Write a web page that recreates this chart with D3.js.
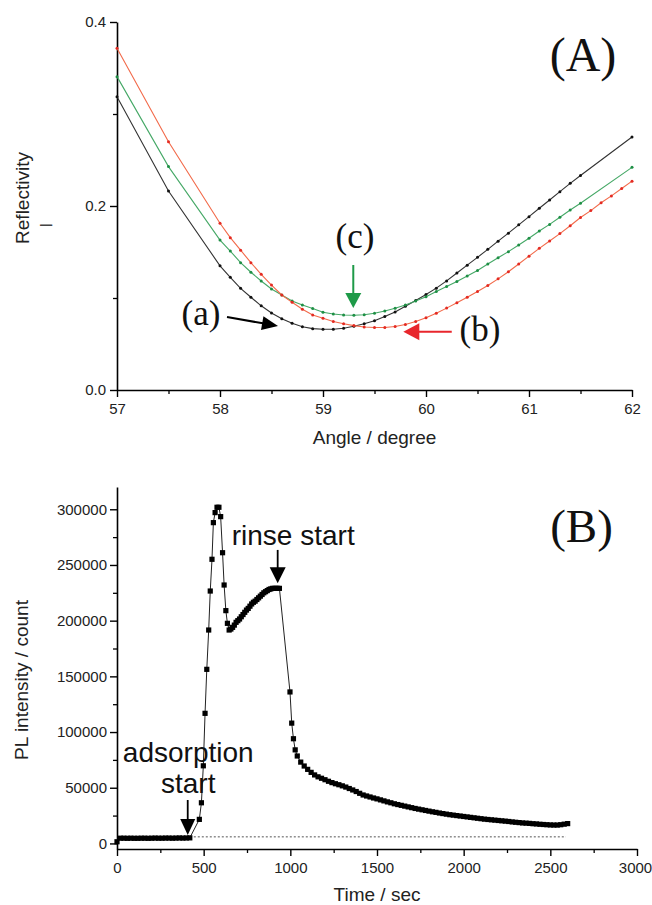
<!DOCTYPE html>
<html><head><meta charset="utf-8">
<script src="https://cdn.jsdelivr.net/npm/d3@7"></script>
<style>
body{margin:0;background:#fff;}
svg{display:block;}
</style></head><body>
<svg id="c" width="652" height="905"></svg>
<script>
// ---------- Panel A data (SPR reflectivity curves) ----------
const anglesAC = [57,57.5,58.0,58.1,58.2,58.3,58.4,58.5,58.6,58.7,58.8,58.9,59.0,59.1,59.2,59.3,59.4,59.5,59.6,59.7,59.8,59.9,60.0,60.1,60.2,60.3,60.4,60.5,60.6,60.7,60.8,60.9,61.0,61.1,61.2,61.3,61.4,61.5,62.0];
const anglesB = [57,57.5,58.0,58.1,58.2,58.3,58.4,58.5,58.6,58.7,58.8,58.9,59.0,59.1,59.2,59.3,59.4,59.5,59.6,59.7,59.8,59.9,60.0,60.1,60.2,60.3,60.4,60.5,60.6,60.7,60.8,60.9,61.0,61.1,61.2,61.3,61.4,61.5,61.6,61.7,61.8,61.9,62.0];
const reflA = [0.3188,0.2163,0.135,0.1225,0.1105,0.1008,0.0915,0.0837,0.0775,0.0725,0.0688,0.0667,0.066,0.066,0.0672,0.0692,0.072,0.0752,0.08,0.0848,0.091,0.0972,0.1038,0.1107,0.1186,0.1272,0.1357,0.1442,0.1529,0.1618,0.1705,0.1795,0.1884,0.1975,0.2065,0.2156,0.2246,0.2332,0.2750];
const reflC = [0.3406,0.2428,0.163,0.151,0.1384,0.128,0.1185,0.1098,0.1033,0.0967,0.0924,0.0885,0.0845,0.0826,0.0815,0.0812,0.0818,0.0835,0.0858,0.0888,0.0924,0.0967,0.1014,0.107,0.1125,0.118,0.124,0.130,0.137,0.1438,0.1504,0.1576,0.1649,0.1728,0.18,0.1877,0.1957,0.203,0.2420];
const reflB = [0.3714,0.2699,0.1812,0.1656,0.152,0.1384,0.1257,0.1141,0.1033,0.0953,0.0877,0.0815,0.078,0.0745,0.072,0.070,0.0685,0.068,0.068,0.069,0.0712,0.0745,0.0785,0.0835,0.089,0.0948,0.1008,0.107,0.1135,0.1208,0.1285,0.137,0.1455,0.154,0.162,0.170,0.1785,0.1875,0.195,0.2035,0.211,0.219,0.227];
const angleTicks = [57,58,59,60,61,62];
const angleMinor = [57.5,58.5,59.5,60.5,61.5];
const reflTicks = [0.0,0.2,0.4];
const reflMinor = [0.1,0.3];

// ---------- Panel B data (PL intensity vs time) ----------
const plTime = [0,20,40,60,80,100,120,140,160,180,200,220,240,260,280,300,320,340,360,380,400,420,
 475,487,498,508,518,529,538,548,556,566,577,588,598,609,618,628,637,647,
 657,667,677,687,697,707,717,727,737,747,757,767,777,787,797,807,817,827,837,847,857,867,877,887,897,907,917,927,937,
 998,1008,1018,1028,1040,
 1060,1080,1100,1120,1140,1160,1180,1200,1220,1240,1260,1280,1300,1320,1340,1360,1380,1400,1420,1440,1460,1480,1500,
 1520,1540,1560,1580,1600,1620,1640,1660,1680,1700,1720,1740,1760,1780,1800,1820,1840,1860,1880,1900,1920,1940,1960,1980,2000,
 2020,2040,2060,2080,2100,2120,2140,2160,2180,2200,2220,2240,2260,2280,2300,2320,2340,2360,2380,2400,2420,2440,2460,2480,2500,
 2520,2540,2560,2580,2600];
const plCount = [1500,4700,4700,4600,4700,4600,4600,4700,4700,4600,4700,4800,4700,4700,4800,4800,4700,4800,4900,4800,4900,5000,
 21600,36500,69700,116800,156300,191600,226600,255100,288000,297000,301800,301800,293400,261000,232000,209000,197600,191600,
 192500,194000,196000,198500,200000,201500,203500,205500,207500,209500,211000,213000,215000,216500,217500,219000,220500,222000,223500,225000,226000,227000,228000,228500,229000,229000,229000,229000,229000,
 136000,108000,94000,84000,78500,
 73000,69500,66500,63800,61500,59800,58500,57200,55800,54600,53600,52700,51700,50600,49300,48000,46600,45000,43500,42600,41700,40800,40000,
 39100,38200,37300,36500,35600,34900,34200,33500,32800,32100,31400,30800,30200,29600,29000,28400,27900,27300,26800,26300,25800,25400,25000,24600,24200,
 23800,23400,23000,22600,22200,21800,21500,21200,20900,20600,20300,20000,19700,19300,19000,18700,18400,18200,18000,17700,17500,17200,17000,16800,16600,
 16500,16500,16800,17300,17800];
const baselineLevel = 5900;
const baselineSpan = [420, 2590];
const timeTicks = [0,500,1000,1500,2000,2500,3000];
const timeMinor = [250,750,1250,1750,2250,2750];
const countTicks = [0,50000,100000,150000,200000,250000,300000];
const countMinor = [25000,75000,125000,175000,225000,275000];

const sans = '"Liberation Sans",Arial,Helvetica,sans-serif';
const serif = '"Liberation Serif","Times New Roman",serif';
const svg = d3.select("#c");

function styleAxis(g, fs){
  g.select(".domain").attr("stroke","#000").attr("stroke-width",1.6);
  g.selectAll(".tick line").attr("stroke","#000").attr("stroke-width",1.4);
  g.selectAll(".tick text").style("font-size",fs+"px").attr("fill","#222").style("font-family",sans);
}
function minorAxis(g){
  g.select(".domain").remove();
  g.selectAll(".tick line").attr("stroke","#000").attr("stroke-width",1.3);
}
function arrow(g,x1,y1,x2,y2,color,headLen,headW,lw){
  const a=Math.atan2(y2-y1,x2-x1);
  const bx=x2-headLen*Math.cos(a), by=y2-headLen*Math.sin(a);
  g.append("line").attr("x1",x1).attr("y1",y1).attr("x2",bx+Math.cos(a)*2).attr("y2",by+Math.sin(a)*2)
    .attr("stroke",color).attr("stroke-width",lw);
  const px=-Math.sin(a)*headW/2, py=Math.cos(a)*headW/2;
  g.append("path").attr("d",`M${x2},${y2}L${bx+px},${by+py}L${bx-px},${by-py}Z`).attr("fill",color);
}
function label(g,x,y,txt,size,family,anchor,fill){
  return g.append("text").attr("x",x).attr("y",y).attr("text-anchor",anchor||"middle")
    .style("font-family",family).style("font-size",size+"px").attr("fill",fill||"#111").text(txt);
}

// ================= Panel A =================
const xA = d3.scaleLinear().domain([57,62]).range([117,632]);
const yA = d3.scaleLinear().domain([0,0.4]).range([390,22]);
const gA = svg.append("g");

gA.append("g").attr("transform","translate(0,390)")
  .call(d3.axisBottom(xA).tickValues(angleMinor).tickSize(4).tickFormat("")).call(minorAxis);
gA.append("g").attr("transform","translate(117,0)")
  .call(d3.axisLeft(yA).tickValues(reflMinor).tickSize(4).tickFormat("")).call(minorAxis);
gA.append("g").attr("transform","translate(0,390)")
  .call(d3.axisBottom(xA).tickValues(angleTicks).tickFormat(d3.format("d")).tickSize(7).tickPadding(6).tickSizeOuter(0))
  .call(g=>styleAxis(g,15));
gA.append("g").attr("transform","translate(117,0)")
  .call(d3.axisLeft(yA).tickValues(reflTicks).tickFormat(d3.format(".1f")).tickSize(7).tickPadding(4).tickSizeOuter(0))
  .call(g=>styleAxis(g,15));

const seriesA = [
  {x:anglesAC, y:reflA, line:"#333333", dot:"#111111"},
  {x:anglesAC, y:reflC, line:"#45a866", dot:"#1e8f45"},
  {x:anglesB,  y:reflB, line:"#f26a4a", dot:"#e42a22"}
];
const lineA = d3.line().x(d=>xA(d[0])).y(d=>yA(d[1]));
seriesA.forEach(s=>{
  const pts = s.x.map((a,i)=>[a,s.y[i]]);
  gA.append("path").attr("d",lineA(pts)).attr("fill","none").attr("stroke",s.line).attr("stroke-width",1.1);
  gA.selectAll(null).data(pts).enter().append("circle")
    .attr("cx",d=>xA(d[0])).attr("cy",d=>yA(d[1])).attr("r",1.5).attr("fill",s.dot);
});

label(gA,0,0,"Reflectivity",19,sans,"middle","#222").attr("transform","translate(29,198) rotate(-90)");
label(gA,46,231,"–",22,sans,"middle","#444");
label(gA,374.5,444,"Angle / degree",19,sans,"middle","#222");

label(gA,xA(61.524),yA(0.3467),"(A)",48,serif);
label(gA,xA(57.816),yA(0.0707),"(a)",35,serif);
label(gA,xA(59.311),yA(0.1543),"(c)",35,serif);
label(gA,xA(60.524),yA(0.0533),"(b)",35,serif);
arrow(gA, xA(58.068), yA(0.0793), xA(58.563), yA(0.0696), "#000", 16, 14, 2);
arrow(gA, xA(59.294), yA(0.1359), xA(59.294), yA(0.0891), "#1e9a48", 15, 16, 2);
arrow(gA, xA(60.25), yA(0.0634), xA(59.78), yA(0.0634), "#e8262c", 16, 17, 2);

// ================= Panel B =================
const xB = d3.scaleLinear().domain([0,3000]).range([117,637]);
const yB = d3.scaleLinear().domain([-5000,320000]).range([849,487]);
const gB = svg.append("g");

gB.append("g").attr("transform","translate(0,849)")
  .call(d3.axisBottom(xB).tickValues(timeMinor).tickSize(4).tickFormat("")).call(minorAxis);
gB.append("g").attr("transform","translate(117,0)")
  .call(d3.axisLeft(yB).tickValues(countMinor).tickSize(4).tickFormat("")).call(minorAxis);
const xAxB = gB.append("g").attr("transform","translate(0,849)")
  .call(d3.axisBottom(xB).tickValues(timeTicks).tickFormat(d3.format("d")).tickSize(7).tickPadding(6).tickSizeOuter(0))
  .call(g=>styleAxis(g,15));
// keep the last label inside the canvas
xAxB.selectAll(".tick text").filter(d=>d===3000).attr("dx",-2);
gB.append("g").attr("transform","translate(117,0)")
  .call(d3.axisLeft(yB).tickValues(countTicks).tickFormat(d3.format("d")).tickSize(7).tickPadding(3).tickSizeOuter(0))
  .call(g=>styleAxis(g,15));

// dotted baseline
gB.append("line").attr("x1",xB(baselineSpan[0])).attr("x2",xB(baselineSpan[1]))
  .attr("y1",yB(baselineLevel)).attr("y2",yB(baselineLevel))
  .attr("stroke","#555").attr("stroke-width",1).attr("stroke-dasharray","2,2");

const ptsB = plTime.map((t,i)=>[t,plCount[i]]);
const lineB = d3.line().x(d=>xB(d[0])).y(d=>yB(d[1]));
gB.append("path").attr("d",lineB(ptsB)).attr("fill","none").attr("stroke","#222").attr("stroke-width",1);
const sq = 5.2;
gB.selectAll(null).data(ptsB).enter().append("rect")
  .attr("x",d=>xB(d[0])-sq/2).attr("y",d=>yB(d[1])-sq/2).attr("width",sq).attr("height",sq).attr("fill","#000");

label(gB,0,0,"PL intensity / count",19,sans,"middle","#222").attr("transform","translate(28,680) rotate(-90)");
label(gB,377,901,"Time / sec",19,sans,"middle","#222");
label(gB,xB(2680),yB(270900),"(B)",47,serif);

label(gB,xB(411),yB(73350),"adsorption",28,sans);
label(gB,xB(411),yB(45000),"start",28,sans);
arrow(gB, xB(408), yB(38970), xB(408), yB(7540), "#000", 16, 15, 1.8);

label(gB,xB(662),yB(267900),"rinse start",28,sans,"start");
arrow(gB, xB(927), yB(263500), xB(927), yB(233500), "#000", 16, 16, 1.8);
</script>
</body></html>
